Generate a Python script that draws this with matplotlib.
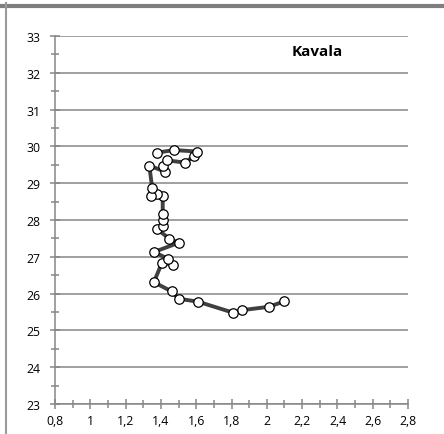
import matplotlib.pyplot as plt
from matplotlib.lines import Line2D
from matplotlib.ticker import MultipleLocator, FuncFormatter

plt.rcParams['font.family'] = ['Open Sans', 'DejaVu Sans']

# Kavala track, in drawing order
x_vals = [2.10, 2.01, 1.86, 1.81, 1.61, 1.50, 1.46, 1.36,
          1.405, 1.467, 1.442, 1.361, 1.50, 1.448, 1.376, 1.41,
          1.41, 1.41, 1.41, 1.38, 1.342, 1.35, 1.334, 1.423,
          1.414, 1.433, 1.537, 1.589, 1.603, 1.476, 1.376]
y_vals = [25.79, 25.64, 25.55, 25.48, 25.78, 25.86, 26.06, 26.31,
          26.83, 26.79, 26.94, 27.13, 27.38, 27.49, 27.76, 27.83,
          27.99, 28.17, 28.65, 28.70, 28.65, 28.88, 29.48, 29.31,
          29.46, 29.62, 29.56, 29.74, 29.86, 29.90, 29.83]
title = 'Kavala'

fig = plt.figure(figsize=(4.44, 4.35), dpi=100)
ax = fig.add_axes([0.124, 0.069, 0.795, 0.846])

grey = '#868686'
ax.plot(x_vals, y_vals, color='#404040', lw=2.8, marker='o', ms=6.8,
        mfc='white', mec='black', mew=0.9, zorder=3)

ax.set_xlim(0.8, 2.8)
ax.set_ylim(23, 33)
ax.xaxis.set_major_locator(MultipleLocator(0.2))
ax.xaxis.set_minor_locator(MultipleLocator(0.1))
ax.yaxis.set_major_locator(MultipleLocator(1))
ax.yaxis.set_minor_locator(MultipleLocator(0.5))

def comma(v, pos):
    s = f'{v:.1f}'.rstrip('0').rstrip('.')
    return s.replace('.', ',')

ax.xaxis.set_major_formatter(FuncFormatter(comma))
ax.grid(True, axis='y', color=grey, lw=1.1)
ax.set_axisbelow(True)

for s in ['top', 'right']:
    ax.spines[s].set_visible(False)
for s in ['left', 'bottom']:
    ax.spines[s].set_color(grey)
    ax.spines[s].set_linewidth(1.1)

ax.tick_params(which='both', direction='inout', color=grey, width=1.1,
               labelsize=8.8, labelcolor='black')
ax.tick_params(which='major', length=7)
ax.tick_params(which='minor', length=6)
ax.tick_params(axis='x', pad=4)
ax.tick_params(axis='y', pad=7)

ax.text(0.742, 0.958, title, transform=ax.transAxes, ha='center', va='center',
        fontsize=11, fontweight='bold')

# frame of the original chart box
fig.add_artist(Line2D([0, 1], [0.985, 0.985], transform=fig.transFigure,
                      color='#7f7f7f', lw=3))
fig.add_artist(Line2D([0.013, 0.013], [0, 0.99], transform=fig.transFigure,
                      color='#9a9a9a', lw=1.5))

fig.savefig('out.png', dpi=100)
